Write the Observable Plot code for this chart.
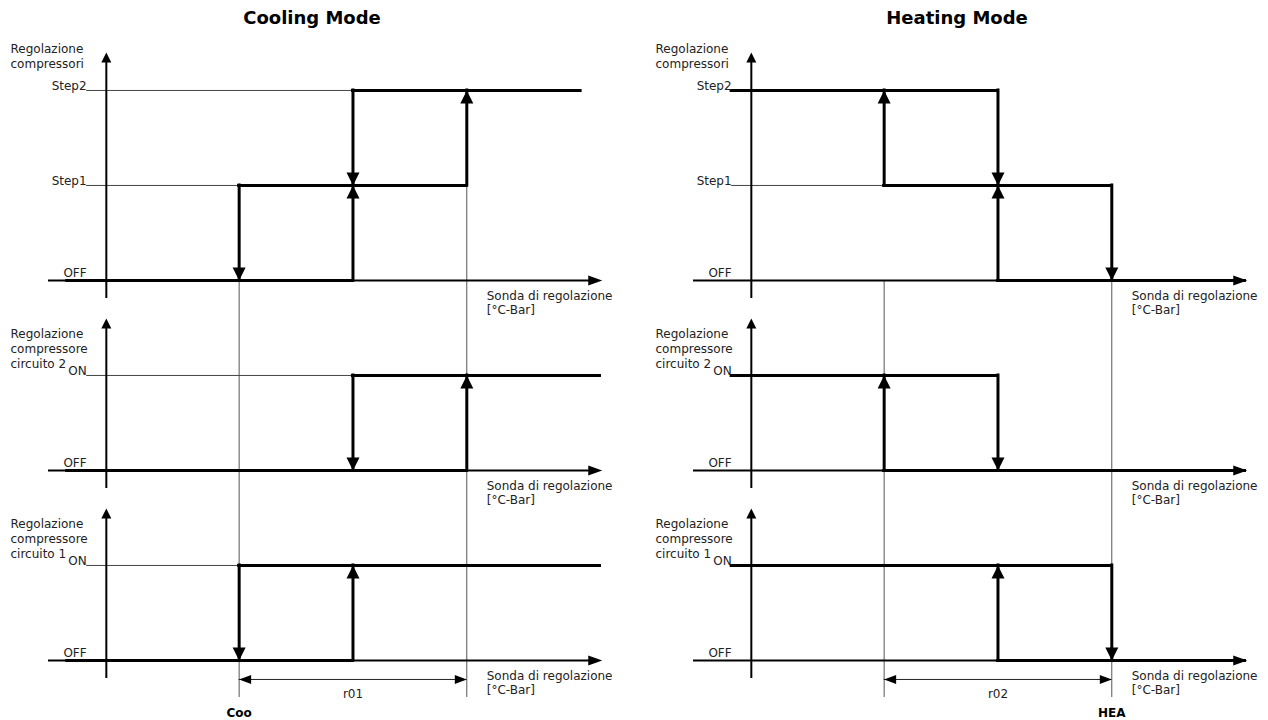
<!DOCTYPE html>
<html><head><meta charset="utf-8">
<script src="https://cdn.jsdelivr.net/npm/d3@7"></script>
<script src="https://cdn.jsdelivr.net/npm/@observablehq/plot@0.6"></script>
<style>body{margin:0;background:#fff;} #chart svg{display:block;}</style>
</head><body><div id="chart"></div>
<script>
// ---- data ----
const modes = ["Cooling Mode", "Heating Mode"];
const panels = ["compressori", "circuito 2", "circuito 1"];
const panelTitles = ["Regolazione\ncompressori", "Regolazione\ncompressore\ncircuito 2", "Regolazione\ncompressore\ncircuito 1"];
const panelLevels = [["OFF", "Step1", "Step2"], ["OFF", "ON"], ["OFF", "ON"]];
const axisTitle = "Sonda di regolazione\n[°C-Bar]";
const setpointLabels = ["Coo", "HEA"];
const setpointAt = [0, 2];
const bandLabels = ["r01", "r02"];
const bandFrom = [0, 0];
const bandTo = [2, 2];
const guideAt = [0, 2];
const coolingGuideTop = ["OFF", "Step1"];
const heatingGuideTop = ["OFF", "OFF"];
// [panel, level, from, to]  (thresholds 0,1,2 on the probe axis)
const coolingLines = [
  ["compressori", "OFF", -Infinity, 1],
  ["compressori", "Step1", 0, 2],
  ["compressori", "Step2", 1, 3],
  ["circuito 2", "OFF", -Infinity, 2],
  ["circuito 2", "ON", 1, Infinity],
  ["circuito 1", "OFF", -Infinity, 1],
  ["circuito 1", "ON", 0, Infinity]
];
const heatingLines = [
  ["compressori", "Step2", -Infinity, 1],
  ["compressori", "Step1", 0, 2],
  ["compressori", "OFF", 1, Infinity],
  ["circuito 2", "ON", -Infinity, 1],
  ["circuito 2", "OFF", 0, Infinity],
  ["circuito 1", "ON", -Infinity, 2],
  ["circuito 1", "OFF", 1, Infinity]
];
// [panel, threshold, from level, to level]
const coolingTransitions = [
  ["compressori", 0, "Step1", "OFF"],
  ["compressori", 1, "OFF", "Step1"],
  ["compressori", 1, "Step2", "Step1"],
  ["compressori", 2, "Step1", "Step2"],
  ["circuito 2", 2, "OFF", "ON"],
  ["circuito 2", 1, "ON", "OFF"],
  ["circuito 1", 0, "ON", "OFF"],
  ["circuito 1", 1, "OFF", "ON"]
];
const heatingTransitions = [
  ["compressori", 0, "Step1", "Step2"],
  ["compressori", 1, "Step2", "Step1"],
  ["compressori", 1, "OFF", "Step1"],
  ["compressori", 2, "Step1", "OFF"],
  ["circuito 2", 0, "OFF", "ON"],
  ["circuito 2", 1, "ON", "OFF"],
  ["circuito 1", 1, "OFF", "ON"],
  ["circuito 1", 2, "ON", "OFF"]
];

// ---- layout constants (scale units) ----
const X = {axisStart: -1.675, thickStart: -1.51, refStart: -1.34, yAxis: -1.167, lineEnd: 3.17, axisTip: 3.19, sonda: 2.175};
const Y = {axisBelow: 0.19, guideBottom: -0.39, dim: -0.2};
const headroom = {"compressori": 0.4, "circuito 2": 0.6, "circuito 1": 0.6};

// ---- derived rows ----
const base = {};
{ let acc = 0; for (let i = panels.length - 1; i >= 0; --i) { base[panels[i]] = acc; acc += panelLevels[i].length; } }
const levelY = (panel, level) => base[panel] + panelLevels[panels.indexOf(panel)].indexOf(level);

const modeLines = [coolingLines, heatingLines];
const modeTrans = [coolingTransitions, heatingTransitions];
const modeGuideTop = [coolingGuideTop, heatingGuideTop];

const lineRows = modes.flatMap((mode, m) => modeLines[m].map(([panel, level, from, to]) => ({
  mode, panel, level, y: levelY(panel, level),
  x1: from === -Infinity ? (level === "OFF" ? X.thickStart : X.refStart) : from,
  x2: to === Infinity ? X.lineEnd : to
})));
const transRows = modes.flatMap((mode, m) => modeTrans[m].map(([panel, x, from, to]) => ({
  mode, panel, x, y1: levelY(panel, from), y2: levelY(panel, to), up: levelY(panel, to) > levelY(panel, from)
})));
const panelRows = modes.flatMap(mode => panels.map((panel, p) => ({
  mode, panel, title: panelTitles[p], y0: base[panel],
  yTop: base[panel] + panelLevels[p].length - 1,
  tip: base[panel] + panelLevels[p].length - 1 + headroom[panel]
})));
const levelRows = modes.flatMap(mode => panels.flatMap((panel, p) => panelLevels[p].map(level => ({mode, panel, level, y: levelY(panel, level)}))));
const refRows = levelRows.filter(d => d.level !== "OFF").map(d => {
  const starts = lineRows.filter(l => l.mode === d.mode && l.panel === d.panel && l.level === d.level).map(l => l.x1);
  return {...d, x2: d3.min(starts)};
}).filter(d => d.x2 > X.refStart + 1e-6);
const guideRows = modes.flatMap((mode, m) => guideAt.map((x, i) => ({mode, x, y1: levelY(panels[0], modeGuideTop[m][i]), y2: Y.guideBottom})));
const dimRows = modes.map((mode, m) => ({mode, x1: bandFrom[m], x2: bandTo[m], mid: (bandFrom[m] + bandTo[m]) / 2, label: bandLabels[m], sp: setpointAt[m], spLabel: setpointLabels[m]}));

// ---- arrowhead symbols (tip at origin) ----
const headUp = (len, half) => ({draw(c) { c.moveTo(0, 0); c.lineTo(-half, len); c.lineTo(half, len); c.closePath(); }});
const headDown = (len, half) => ({draw(c) { c.moveTo(0, 0); c.lineTo(-half, -len); c.lineTo(half, -len); c.closePath(); }});
const headRight = (len, half) => ({draw(c) { c.moveTo(0, 0); c.lineTo(-len, -half); c.lineTo(-len, half); c.closePath(); }});
const headLeft = (len, half) => ({draw(c) { c.moveTo(0, 0); c.lineTo(len, -half); c.lineTo(len, half); c.closePath(); }});

const ink = "#000";
const thin = "#444";
const txt = "#222";

const chart = Plot.plot({
  width: 1268,
  height: 720,
  margin: 0,
  fx: {domain: modes, paddingInner: 0.03715, paddingOuter: 0, axis: null},
  x: {domain: [-2.088, 3.368], axis: null},
  y: {domain: [-0.632, 6.947], axis: null},
  style: {fontFamily: "'DejaVu Sans', sans-serif", fontSize: "12px", background: "#fff", color: txt},
  marks: [
    // thin guides and reference lines
    Plot.ruleX(guideRows, {fx: "mode", x: "x", y1: "y1", y2: "y2", stroke: "#555", strokeWidth: 1}),
    Plot.ruleY(refRows, {fx: "mode", y: "y", x1: X.refStart, x2: "x2", stroke: thin, strokeWidth: 1}),
    // axes
    Plot.ruleY(panelRows, {fx: "mode", y: "y0", x1: X.axisStart, x2: X.axisTip - 0.05, stroke: ink, strokeWidth: 2}),
    Plot.ruleX(panelRows, {fx: "mode", x: X.yAxis, y1: d => d.y0 - Y.axisBelow, y2: d => d.tip - 0.05, stroke: ink, strokeWidth: 2}),
    Plot.dot(panelRows, {fx: "mode", x: X.axisTip, y: "y0", symbol: headRight(14, 5), fill: ink, stroke: "none"}),
    Plot.dot(panelRows, {fx: "mode", x: X.yAxis, y: "tip", symbol: headUp(10, 5), fill: ink, stroke: "none"}),
    // state lines
    Plot.ruleY(lineRows, {fx: "mode", y: "y", x1: "x1", x2: "x2", stroke: ink, strokeWidth: 3, strokeLinecap: "square"}),
    Plot.ruleX(transRows, {fx: "mode", x: "x", y1: "y1", y2: "y2", stroke: ink, strokeWidth: 3, strokeLinecap: "square"}),
    Plot.dot(transRows.filter(d => d.up), {fx: "mode", x: "x", y: "y2", symbol: headUp(13, 6.5), fill: ink, stroke: "none"}),
    Plot.dot(transRows.filter(d => !d.up), {fx: "mode", x: "x", y: "y2", symbol: headDown(13, 6.5), fill: ink, stroke: "none"}),
    // dimension line
    Plot.ruleY(dimRows, {fx: "mode", y: Y.dim, x1: "x1", x2: "x2", stroke: txt, strokeWidth: 1}),
    Plot.dot(dimRows, {fx: "mode", x: "x1", y: Y.dim, symbol: headLeft(12, 4.5), fill: ink, stroke: "none"}),
    Plot.dot(dimRows, {fx: "mode", x: "x2", y: Y.dim, symbol: headRight(12, 4.5), fill: ink, stroke: "none"}),
    Plot.text(dimRows, {fx: "mode", x: "mid", y: Y.dim, text: "label", dy: 15, fontSize: 12, fill: txt}),
    Plot.text(dimRows, {fx: "mode", x: "sp", y: Y.dim, text: "spLabel", dy: 34, fontSize: 12, fontWeight: "bold", fill: ink}),
    // texts
    Plot.text(modes, {fx: d => d, text: d => d, frameAnchor: "top", lineAnchor: "middle", dy: 18, fontSize: 18, fontWeight: "bold", fill: ink}),
    Plot.text(panelRows, {fx: "mode", y: "yTop", text: "title", frameAnchor: "left", dx: 9, dy: -48, lineAnchor: "top", textAnchor: "start", lineHeight: 1.25, fontSize: 12, fill: txt}),
    Plot.text(levelRows.filter(d => d.level !== "OFF"), {fx: "mode", x: X.refStart, y: "y", text: "level", textAnchor: "end", dy: -4, fontSize: 12, fill: txt}),
    Plot.text(levelRows.filter(d => d.level === "OFF"), {fx: "mode", x: X.refStart, y: "y", text: "level", textAnchor: "end", dy: -7, fontSize: 12, fill: txt}),
    Plot.text(panelRows, {fx: "mode", x: X.sonda, y: "y0", text: () => axisTitle, lineAnchor: "top", dy: 9, textAnchor: "start", lineHeight: 1.2, fontSize: 12, fill: txt})
  ]
});
document.getElementById("chart").appendChild(chart);
</script>
</body></html>
